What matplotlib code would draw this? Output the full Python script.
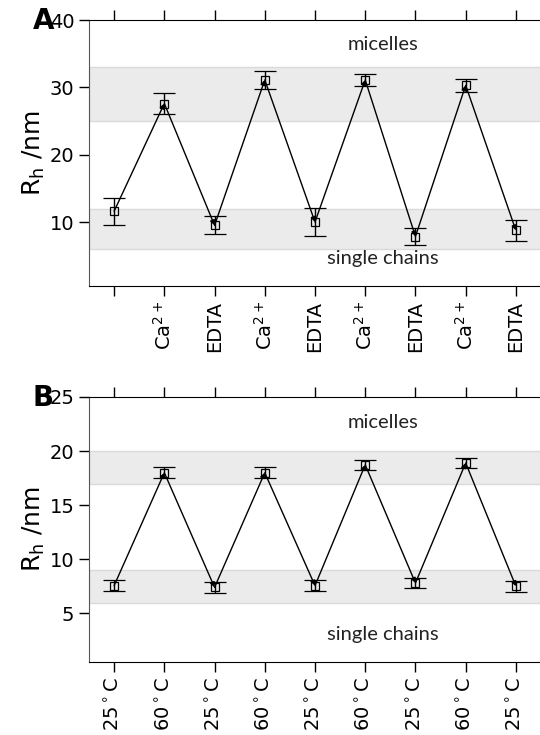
import numpy as np
import matplotlib
matplotlib.use("Agg")
import matplotlib.pyplot as plt

plt.rcParams['mathtext.fontset'] = 'dejavusans'

# Panel A: Ca2+ / EDTA switching
labels_a = ['', r'Ca$^{2+}$', 'EDTA', r'Ca$^{2+}$', 'EDTA', r'Ca$^{2+}$', 'EDTA', r'Ca$^{2+}$', 'EDTA']
rh_a = [11.6, 27.6, 9.5, 31.1, 10.0, 31.1, 7.85, 30.3, 8.75]
err_a = [2.0, 1.5, 1.35, 1.35, 2.05, 0.9, 1.2, 1.0, 1.5]
bands_a = [(25, 33), (6, 12)]

# Panel B: temperature switching
labels_b = [r'25$^\circ$C', r'60$^\circ$C', r'25$^\circ$C', r'60$^\circ$C', r'25$^\circ$C',
            r'60$^\circ$C', r'25$^\circ$C', r'60$^\circ$C', r'25$^\circ$C']
rh_b = [7.56, 18.0, 7.4, 18.0, 7.56, 18.73, 7.8, 18.9, 7.5]
err_b = [0.5, 0.5, 0.5, 0.5, 0.5, 0.45, 0.5, 0.5, 0.5]
bands_b = [(17, 20), (6, 9)]


def draw_panel(ax, labels, rh, err, bands, ylim, yticks, txt_mic, txt_single, letter):
    x = np.arange(1, len(rh) + 1)
    for lo, hi in bands:
        ax.axhspan(lo, hi, facecolor='#ebebeb', edgecolor='#dadada', lw=1, zorder=0)
    # arrows from point to point
    for i in range(len(rh) - 1):
        ax.annotate('', xy=(x[i + 1], rh[i + 1]), xytext=(x[i], rh[i]),
                    arrowprops=dict(arrowstyle='-|>', color='k', lw=1,
                                    mutation_scale=7, shrinkA=0, shrinkB=0))
    ax.errorbar(x, rh, yerr=err, fmt='s', color='k', mfc='none', mec='k',
                ms=6, mew=0.9, elinewidth=1, capsize=8, capthick=1, zorder=3)
    ax.set_xlim(0.5, len(rh) + 0.5)
    ax.set_ylim(*ylim)
    ax.set_yticks(yticks)
    ax.set_xticks(x)
    ax.set_xticklabels(labels, rotation=90)
    ax.tick_params(axis='both', direction='out', length=7, width=1, labelsize=14)
    ax.tick_params(axis='x', top=True, labeltop=False)
    ax.spines['right'].set_visible(False)
    ax.spines['left'].set_color('#555555')
    ax.set_ylabel(r'R$_\mathrm{h}$ /nm', fontsize=18, labelpad=2)
    ax.text(6.35, txt_mic, 'micelles', ha='center', va='center', fontsize=14.5,
            family='Lato', color='#222222')
    ax.text(6.35, txt_single, 'single chains', ha='center', va='center', fontsize=14.5,
            family='Lato', color='#222222')
    ax.text(-0.124, 0.966, letter, transform=ax.transAxes, fontsize=20, fontweight='heavy',
            ha='left', va='baseline')


fig = plt.figure(figsize=(5.4, 7.35), dpi=100)
ax_a = fig.add_axes([89 / 540, 1 - 286 / 735, 452 / 540, 266 / 735])
ax_b = fig.add_axes([89 / 540, 1 - 662 / 735, 452 / 540, 265 / 735])

draw_panel(ax_a, labels_a, rh_a, err_a, bands_a, (0.5, 40), [10, 20, 30, 40], 36.3, 4.6, 'A')
draw_panel(ax_b, labels_b, rh_b, err_b, bands_b, (0.5, 25), [5, 10, 15, 20, 25], 22.65, 3.0, 'B')

fig.savefig('out.png', dpi=100)
